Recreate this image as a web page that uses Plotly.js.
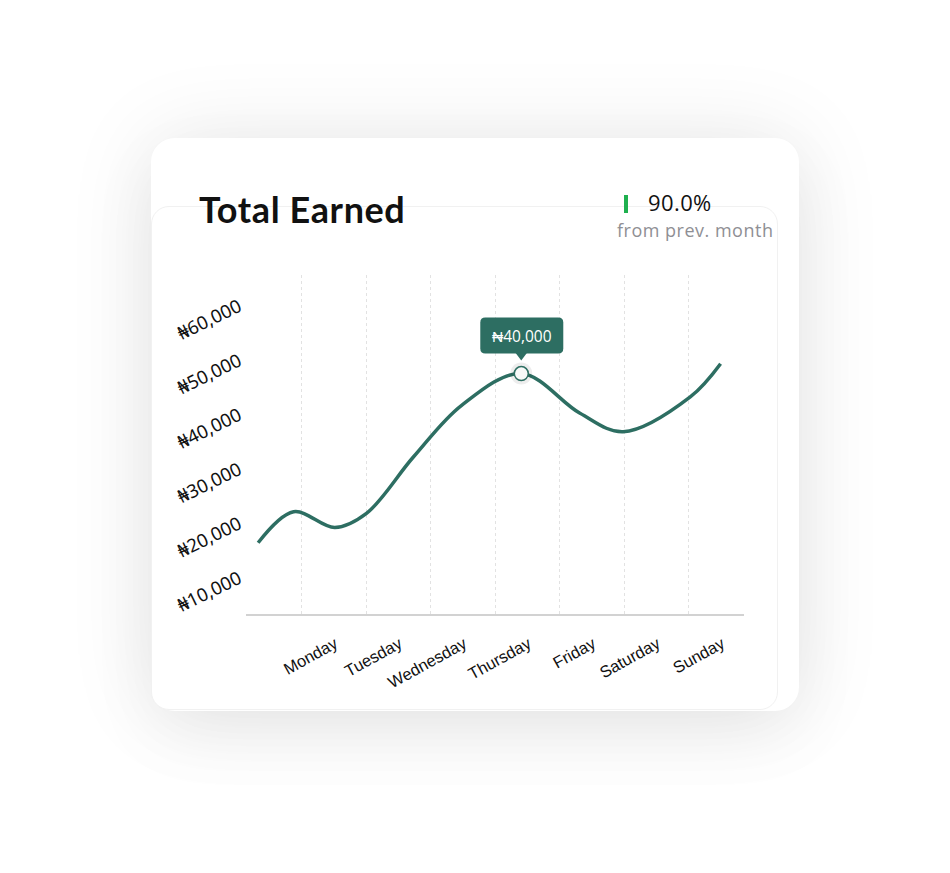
<!DOCTYPE html>
<html>
<head>
<meta charset="utf-8">
<script src="https://cdn.plot.ly/plotly-3.0.1.min.js"></script>
<style>
  html, body { margin: 0; padding: 0; background: #ffffff; width: 950px; height: 873px; overflow: hidden; }
  #card { position: absolute; left: 151px; top: 138px; width: 648px; height: 573px; border-radius: 24px; background: #fff;
          box-shadow: 0 0 90px rgba(0,0,0,0.09), 0 25px 70px rgba(0,0,0,0.05); }
  #inner { position: absolute; left: 151px; top: 206px; width: 625px; height: 502px; border-radius: 18px; background: #fff;
           border: 1px solid #f1f1f1; }
  #chart { position: absolute; left: 0; top: 0; width: 950px; height: 873px; }
  .txt { position: absolute; white-space: nowrap; line-height: 1; }
  #title { left: 199px; top: 191px; font-family: "Lato", sans-serif; font-weight: 700; font-size: 36px; color: #111; letter-spacing: 0.6px; }
  #bar { position: absolute; left: 624px; top: 195px; width: 4px; height: 18px; background: #1fb04f; }
  #pct { left: 648px; top: 191px; font-family: "Open Sans", sans-serif; font-size: 22px; color: #111; letter-spacing: 0.4px; }
  #sub { left: 617px; top: 221px; font-family: "Open Sans", sans-serif; font-size: 18px; color: #8f8f94; letter-spacing: 0.5px; }
</style>
</head>
<body>
<div id="card"></div>
<div id="inner"></div>
<div id="title" class="txt">Total Earned</div>
<div id="bar"></div>
<div id="pct" class="txt">90.0%</div>
<div id="sub" class="txt">from prev. month</div>
<div id="chart"></div>
<script>
// ---- data ----
const dayLabels = ["Monday", "Tuesday", "Wednesday", "Thursday", "Friday", "Saturday", "Sunday"];
const dayPositions = [0, 1, 2, 3, 4, 5, 6];
const yTickValues = [10000, 20000, 30000, 40000, 50000, 60000];
const yTickLabels = ["₦10,000", "₦20,000", "₦30,000", "₦40,000", "₦50,000", "₦60,000"];
const curveX = [-0.68, -0.13, 0.51, 1.00, 1.73, 2.48, 3.40, 4.31, 4.98, 6.02, 6.49];
const earnings = [18100, 23800, 20900, 23500, 33900, 43400, 49200, 41900, 38500, 44900, 51000];
const highlightX = [3.40];
const highlightY = [49200];
const highlightLabel = "₦40,000";

const green = "#2d6e62";

const traces = [
  { x: curveX, y: earnings, type: "scatter", mode: "lines",
    line: { color: green, width: 3.5, shape: "spline", smoothing: 1 }, hoverinfo: "skip" },
  { x: highlightX, y: highlightY, type: "scatter", mode: "markers",
    marker: { size: 22, color: "rgba(0,0,0,0.07)" }, hoverinfo: "skip" },
  { x: highlightX, y: highlightY, type: "scatter", mode: "markers",
    marker: { size: 14, color: "#f7f9f8", line: { color: green, width: 1.5 } }, hoverinfo: "skip" }
];

const layout = {
  width: 950, height: 873,
  margin: { l: 246, r: 206, t: 275, b: 259 },
  paper_bgcolor: "rgba(0,0,0,0)", plot_bgcolor: "rgba(0,0,0,0)",
  showlegend: false,
  xaxis: {
    range: [-0.868, 6.853], tickmode: "array", tickvals: dayPositions, ticktext: dayLabels,
    showgrid: true, gridcolor: "#e2e2e2", griddash: "dot", gridwidth: 1,
    showline: true, linecolor: "#d2d2d2", linewidth: 2, zeroline: false, ticks: "",
    tickangle: -29, ticklabelshift: 33, ticklabelstandoff: 12,
    tickfont: { family: "Liberation Sans, Arial, sans-serif", size: 16.5, color: "#111" },
    fixedrange: true
  },
  yaxis: {
    range: [5000, 67316], tickmode: "array", tickvals: yTickValues, ticktext: yTickLabels,
    showgrid: false, showline: false, zeroline: false, ticks: "",
    tickangle: -26, ticklabelstandoff: 6, ticklabelshift: -10,
    tickfont: { family: "Noto Sans, sans-serif", size: 18.5, color: "#111" },
    fixedrange: true
  },
  shapes: [
    { type: "path", xref: "x", yref: "y", xsizemode: "pixel", ysizemode: "pixel",
      xanchor: highlightX[0], yanchor: highlightY[0],
      path: "M -36,20 L 37,20 Q 42,20 42,25 L 42,51 Q 42,56 37,56 L -36,56 Q -41,56 -41,51 L -41,25 Q -41,20 -36,20 Z",
      fillcolor: green, line: { width: 0 }, layer: "above" },
    { type: "path", xref: "x", yref: "y", xsizemode: "pixel", ysizemode: "pixel",
      xanchor: highlightX[0], yanchor: highlightY[0],
      path: "M -6,21 L 6,21 L 0,13 Z",
      fillcolor: green, line: { width: 0 }, layer: "above" }
  ],
  annotations: [
    { x: highlightX[0], y: highlightY[0], xref: "x", yref: "y", text: highlightLabel, showarrow: false,
      yshift: 38, xshift: 0.5, font: { family: "Open Sans, sans-serif", size: 15.5, color: "#ffffff" } }
  ]
};

Plotly.newPlot("chart", traces, layout, { displayModeBar: false, staticPlot: true });
</script>
</body>
</html>
